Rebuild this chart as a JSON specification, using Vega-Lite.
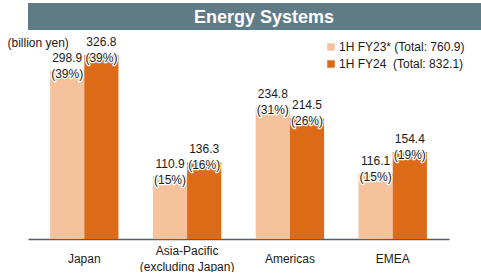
{
  "$schema": "https://vega.github.io/schema/vega-lite/v6.json",
  "background": "white",
  "padding": {"left": 7, "top": 3, "right": 0, "bottom": 0},
  "spacing": 6,
  "resolve": {"legend": {"color": "independent"}},
  "config": {
    "font": "Liberation Sans",
    "view": {"stroke": null}
  },
  "vconcat": [
    {
      "width": 472,
      "height": 27,
      "view": {"fill": "#5F7C86", "stroke": null},
      "data": {"values": [{"title": "Energy Systems"}]},
      "mark": {"type": "text", "color": "white", "fontSize": 18, "fontWeight": "bold", "font": "Liberation Sans", "baseline": "middle", "align": "center", "dy": 1},
      "encoding": {"text": {"field": "title", "type": "nominal"}}
    },
    {
      "width": 421,
      "height": 197,
      "data": {
        "values": [
          {"region": "Japan", "series": "1H FY23*", "value": 298.9, "pct": 39},
          {"region": "Japan", "series": "1H FY24", "value": 326.8, "pct": 39},
          {"region": "Asia-Pacific (excluding Japan)", "series": "1H FY23*", "value": 110.9, "pct": 15},
          {"region": "Asia-Pacific (excluding Japan)", "series": "1H FY24", "value": 136.3, "pct": 16},
          {"region": "Americas", "series": "1H FY23*", "value": 234.8, "pct": 31},
          {"region": "Americas", "series": "1H FY24", "value": 214.5, "pct": 26},
          {"region": "EMEA", "series": "1H FY23*", "value": 116.1, "pct": 15},
          {"region": "EMEA", "series": "1H FY24", "value": 154.4, "pct": 19}
        ]
      },
      "transform": [
        {"calculate": "format(datum.value, '.1f') + '\\n(' + datum.pct + '%)'", "as": "label"}
      ],
      "encoding": {
        "x": {
          "field": "region", "type": "nominal",
          "sort": ["Japan", "Asia-Pacific (excluding Japan)", "Americas", "EMEA"],
          "scale": {"paddingInner": 0.335, "paddingOuter": 0.215},
          "axis": {
            "title": null,
            "labelAngle": 0,
            "ticks": false,
            "tickSize": 0,
            "labelPadding": {"condition": {"test": "datum.value == 'Asia-Pacific (excluding Japan)'", "value": 11}, "value": 19},
            "labelBaseline": "middle",
            "labelFontSize": 12,
            "labelColor": "#1a1a1a",
            "labelLineHeight": 16,
            "labelExpr": "datum.value == 'Asia-Pacific (excluding Japan)' ? ['Asia-Pacific', '(excluding Japan)'] : datum.value",
            "domainColor": "#4F6269",
            "domainWidth": 1.5,
            "grid": false
          }
        },
        "xOffset": {
          "field": "series", "type": "nominal",
          "sort": ["1H FY23*", "1H FY24"],
          "scale": {"paddingInner": 0, "paddingOuter": 0}
        },
        "y": {
          "field": "value", "type": "quantitative",
          "scale": {"domain": [0, 350], "nice": false},
          "axis": {
            "title": "(billion yen)",
            "titleAngle": 0,
            "titleAlign": "left",
            "titleBaseline": "middle",
            "titleX": -21,
            "titleY": 0,
            "titleFontSize": 12,
            "titleFontWeight": "normal",
            "titleColor": "#1a1a1a",
            "labels": false,
            "ticks": false,
            "domain": false,
            "grid": false
          }
        }
      },
      "layer": [
        {
          "mark": {"type": "bar"},
          "encoding": {
            "color": {
              "field": "series", "type": "nominal",
              "sort": ["1H FY23*", "1H FY24"],
              "scale": {"domain": ["1H FY23*", "1H FY24"], "range": ["#F5C29C", "#DD6A17"]},
              "legend": {
                "title": null,
                "orient": "none",
                "legendX": 297,
                "legendY": -1,
                "padding": 0,
                "symbolType": "square",
                "symbolSize": 56,
                "symbolStrokeWidth": 0,
                "labelFontSize": 12,
                "labelColor": "#1a1a1a",
                "labelOffset": 2,
                "rowPadding": 5,
                "labelLimit": 300,
                "labelExpr": "datum.label == '1H FY23*' ? '1H FY23* (Total: 760.9)' : '1H FY24\u00a0 (Total: 832.1)'"
              }
            }
          }
        },
        {
          "mark": {"type": "text", "baseline": "middle", "align": "center", "dy": -13, "fontSize": 12, "lineHeight": 16, "lineBreak": "\n", "stroke": "white", "strokeWidth": 2.5, "strokeJoin": "round", "fill": "white"},
          "encoding": {"text": {"field": "label", "type": "nominal"}}
        },
        {
          "mark": {"type": "text", "baseline": "middle", "align": "center", "dy": -13, "fontSize": 12, "lineHeight": 16, "lineBreak": "\n", "color": "#1a1a1a"},
          "encoding": {"text": {"field": "label", "type": "nominal"}}
        }
      ]
    }
  ]
}
